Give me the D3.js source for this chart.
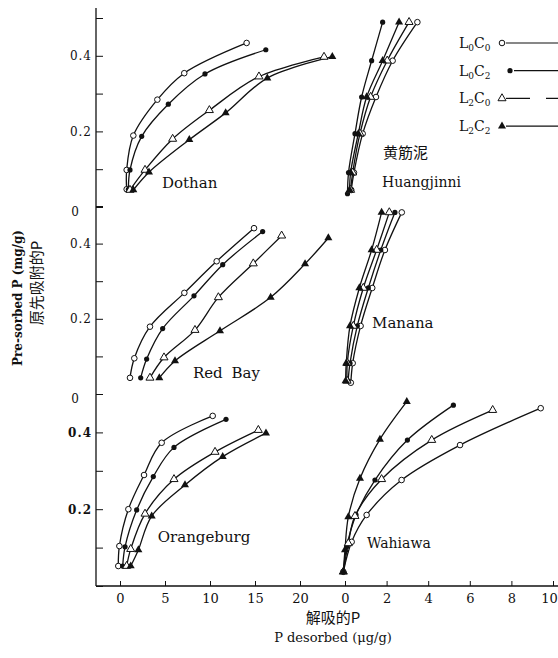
<!DOCTYPE html>
<html>
<head>
<meta charset="utf-8">
<script src="https://cdn.jsdelivr.net/npm/d3@7"></script>
<style>
  body { margin: 0; background: #fff; }
  text { font-family: "DejaVu Serif", "Liberation Serif", "Noto Sans CJK SC", serif; fill: #111; }
</style>
</head>
<body>
<div id="chart"></div>
<script>
// treatment order: L0C0, L0C2, L2C0, L2C2 ; points are [P desorbed, pre-sorbed P]
var treatments = ["L0C0", "L0C2", "L2C0", "L2C2"];

var dothan = [
    [[0.74, 0.047], [0.74, 0.098], [1.48, 0.189], [4.15, 0.284], [7.14, 0.354], [14.07, 0.434]],
    [[0.93, 0.047], [1.11, 0.098], [2.41, 0.187], [5.37, 0.272], [9.44, 0.352], [16.2, 0.416]],
    [[1.11, 0.045], [2.78, 0.098], [5.85, 0.18], [9.93, 0.256], [15.44, 0.345], [22.67, 0.397]],
    [[1.48, 0.045], [3.22, 0.092], [7.7, 0.178], [11.74, 0.249], [16.37, 0.341], [23.59, 0.398]]
];
var huangjinni = [
    [[0.3, 0.045], [0.43, 0.091], [0.85, 0.194], [1.49, 0.291], [2.29, 0.387], [3.48, 0.489]],
    [[0.12, 0.035], [0.17, 0.091], [0.48, 0.194], [0.8, 0.291], [1.28, 0.387], [1.81, 0.489]],
    [[0.27, 0.045], [0.37, 0.091], [0.72, 0.194], [1.23, 0.291], [2.03, 0.387], [3.08, 0.489]],
    [[0.22, 0.045], [0.27, 0.091], [0.64, 0.194], [1.04, 0.291], [1.81, 0.387], [2.6, 0.489]]
];
var redBay = [
    [[1.11, 0.043], [1.59, 0.095], [3.33, 0.179], [7.15, 0.269], [10.74, 0.353], [14.89, 0.441]],
    [[2.3, 0.043], [2.96, 0.093], [4.74, 0.174], [8.22, 0.261], [11.41, 0.344], [15.85, 0.432]],
    [[3.33, 0.043], [4.89, 0.097], [8.33, 0.17], [10.93, 0.257], [14.81, 0.347], [17.96, 0.421]],
    [[4.37, 0.043], [6.11, 0.088], [11.11, 0.168], [16.74, 0.257], [20.56, 0.346], [23.15, 0.415]]
];
var manana = [
    [[0.28, 0.03], [0.37, 0.082], [0.75, 0.181], [1.31, 0.282], [1.92, 0.383], [2.73, 0.483]],
    [[0.15, 0.035], [0.24, 0.082], [0.59, 0.181], [1.12, 0.282], [1.72, 0.383], [2.4, 0.483]],
    [[0.1, 0.035], [0.11, 0.082], [0.4, 0.181], [0.88, 0.282], [1.52, 0.383], [2.13, 0.483]],
    [[0.03, 0.035], [0.06, 0.082], [0.24, 0.181], [0.69, 0.282], [1.28, 0.383], [1.76, 0.483]]
];
var orangeburg = [
    [[-0.19, 0.052], [-0.07, 0.104], [0.93, 0.2], [2.67, 0.289], [4.63, 0.373], [10.3, 0.443]],
    [[0.3, 0.052], [0.56, 0.102], [1.85, 0.198], [3.7, 0.285], [6, 0.361], [11.78, 0.434]],
    [[0.74, 0.052], [1.19, 0.096], [2.78, 0.188], [6, 0.278], [10.56, 0.349], [15.37, 0.406]],
    [[1.19, 0.052], [2.04, 0.094], [3.52, 0.182], [7.22, 0.263], [11.41, 0.337], [16.22, 0.398]]
];
var wahiawa = [
    [[-0.08, 0.037], [0.32, 0.115], [1.04, 0.185], [2.72, 0.276], [5.53, 0.367], [9.41, 0.463]],
    [[-0.08, 0.037], [0.08, 0.102], [0.53, 0.185], [1.44, 0.276], [3.0, 0.38], [5.21, 0.471]],
    [[-0.08, 0.037], [0.16, 0.111], [0.48, 0.182], [1.76, 0.278], [4.17, 0.38], [7.1, 0.458]],
    [[-0.08, 0.037], [0, 0.094], [0.16, 0.18], [0.72, 0.28], [1.68, 0.382], [2.97, 0.48]]
];

var leftTicks = [0, 5, 10, 15, 20];
var rightTicks = [0, 2, 4, 6, 8, 10];
var yTicks = [0, 0.1, 0.2, 0.3, 0.4, 0.5];
var yLabelled = [0.2, 0.4];

function init() {
    var w = 558, h = 658;
    var axisX = 96, axisY = 586;

    var svg = d3.select("#chart").append("svg")
        .attr("width", w).attr("height", h);

    var xLeft = d3.scaleLinear().domain([0, 20]).range([120, 300]);
    var xRight = d3.scaleLinear().domain([0, 10]).range([345, 553]);
    var yRow = [
        d3.scaleLinear().domain([0, 0.5]).range([207, 18]),
        d3.scaleLinear().domain([0, 0.5]).range([394, 206]),
        d3.scaleLinear().domain([0, 0.5]).range([586, 394])
    ];

    // axis frame lines
    svg.append("line").attr("x1", axisX).attr("x2", axisX).attr("y1", 8).attr("y2", axisY)
        .attr("stroke", "#111").attr("stroke-width", 1.3);
    svg.append("line").attr("x1", axisX).attr("x2", w).attr("y1", axisY).attr("y2", axisY)
        .attr("stroke", "#111").attr("stroke-width", 1.3);

    // y ticks per row
    yRow.forEach(function (ys, r) {
        var ax = d3.axisLeft(ys).tickValues(yTicks).tickSize(-7).tickPadding(4)
            .tickFormat(function (d) {
                if (d === 0 && r < 2) return "0";
                return yLabelled.indexOf(d) >= 0 ? d.toFixed(1) : "";
            });
        var g = svg.append("g").attr("transform", "translate(" + axisX + ",0)").call(ax);
        g.select(".domain").remove();
        g.selectAll("line").attr("stroke", "#111");
        g.selectAll("text").style("font-family", "'DejaVu Serif', serif")
            .style("font-size", "12px").attr("letter-spacing", "1")
            .style("font-weight", r === 2 ? "bold" : "normal");
        g.selectAll(".tick").filter(function (d) { return d === 0; })
            .select("text").attr("dy", "0.7em").attr("x", -16);
    });

    // x axes
    [[xLeft, leftTicks], [xRight, rightTicks]].forEach(function (p) {
        var g = svg.append("g").attr("transform", "translate(0," + axisY + ")")
            .call(d3.axisBottom(p[0]).tickValues(p[1]).tickSize(-5).tickPadding(8));
        g.select(".domain").remove();
        g.selectAll("line").attr("stroke", "#111");
        g.selectAll("text").style("font-family", "'DejaVu Serif', serif").style("font-size", "13px")
            .attr("dx", function (d) { return p[0] === xRight && d === 10 ? -4 : 0; });
    });

    var panels = [
        { data: dothan, x: xLeft, y: yRow[0] },
        { data: huangjinni, x: xRight, y: yRow[0] },
        { data: redBay, x: xLeft, y: yRow[1] },
        { data: manana, x: xRight, y: yRow[1] },
        { data: orangeburg, x: xLeft, y: yRow[2] },
        { data: wahiawa, x: xRight, y: yRow[2] }
    ];

    var tri = d3.symbol().type(d3.symbolTriangle).size(28);

    function marker(sel, k) {
        if (k === 0) {
            sel.append("circle").attr("r", 2.8).attr("fill", "#fff").attr("stroke", "#111").attr("stroke-width", 1);
        } else if (k === 1) {
            sel.append("circle").attr("r", 2.6).attr("fill", "#111");
        } else if (k === 2) {
            sel.append("path").attr("d", tri).attr("fill", "#fff").attr("stroke", "#111").attr("stroke-width", 1);
        } else {
            sel.append("path").attr("d", tri).attr("fill", "#111");
        }
    }

    panels.forEach(function (p) {
        var line = d3.line()
            .x(function (d) { return p.x(d[0]); })
            .y(function (d) { return p.y(d[1]); })
            .curve(d3.curveCatmullRom.alpha(0.5));
        p.data.forEach(function (series, k) {
            svg.append("path").datum(series).attr("d", line)
                .attr("fill", "none").attr("stroke", "#111").attr("stroke-width", 1.3);
        });
        p.data.forEach(function (series, k) {
            svg.selectAll(null).data(series).enter().append("g")
                .attr("transform", function (d) { return "translate(" + p.x(d[0]) + "," + p.y(d[1]) + ")"; })
                .each(function () { marker(d3.select(this), k); });
        });
    });

    // panel labels
    var labels = [
        ["Dothan", xLeft(4.67), yRow[0](0.063), 15],
        ["黄筋泥", xRight(1.83), yRow[0](0.143), 15],
        ["Huangjinni", xRight(1.78), yRow[0](0.066), 14],
        ["Red Bay", xLeft(8.1), yRow[1](0.056), 15],
        ["Manana", xRight(1.3), yRow[1](0.19), 15],
        ["Orangeburg", xLeft(4.2), yRow[2](0.128), 15],
        ["Wahiawa", xRight(1.06), yRow[2](0.112), 14]
    ];
    svg.selectAll(null).data(labels).enter().append("text")
        .attr("x", function (d) { return d[1]; })
        .attr("y", function (d) { return d[2]; })
        .attr("dy", "0.35em")
        .style("font-size", function (d) { return d[3] + "px"; })
        .attr("word-spacing", function (d) { return d[0] === "Red Bay" ? "4" : "0"; })
        .text(function (d) { return d[0]; });

    // legend
    var leg = svg.append("g");
    treatments.forEach(function (t, k) {
        var yy = 43 + k * 27.7;
        var tx = leg.append("text").attr("x", 459).attr("y", yy).attr("dy", "0.35em").style("font-size", "14px");
        tx.append("tspan").text(t[0]);
        tx.append("tspan").text(t[1]).style("font-size", "9px").attr("dy", "3");
        tx.append("tspan").text(t[2]).attr("dy", "-3");
        tx.append("tspan").text(t[3]).style("font-size", "9px").attr("dy", "3");
        var mx = k === 1 ? 510 : 502;
        marker(leg.append("g").attr("transform", "translate(" + mx + "," + yy + ")"), k);
        leg.append("line").attr("x1", mx + 4).attr("x2", w).attr("y1", yy).attr("y2", yy)
            .attr("stroke", "#111").attr("stroke-width", 1.2)
            .attr("stroke-dasharray", k === 2 ? "24,16" : null);
    });

    // axis titles
    svg.append("text").attr("x", 333).attr("y", 623).attr("text-anchor", "middle")
        .style("font-size", "15px").style("font-family", "'Noto Sans CJK SC', sans-serif").text("解吸的P");
    svg.append("text").attr("x", 333).attr("y", 642).attr("text-anchor", "middle")
        .style("font-size", "13px").text("P  desorbed (μg/g)");
    svg.append("text").attr("transform", "translate(22,298) rotate(-90)").attr("text-anchor", "middle")
        .style("font-size", "12px").style("font-weight", "bold").text("Pre-sorbed P (mg/g)");
    svg.append("text").attr("transform", "translate(42,283) rotate(-90)").attr("text-anchor", "middle")
        .style("font-size", "15px").style("font-family", "'Noto Sans CJK SC', sans-serif").text("原先吸附的P");
}

window.onload = init;
</script>
</body>
</html>
